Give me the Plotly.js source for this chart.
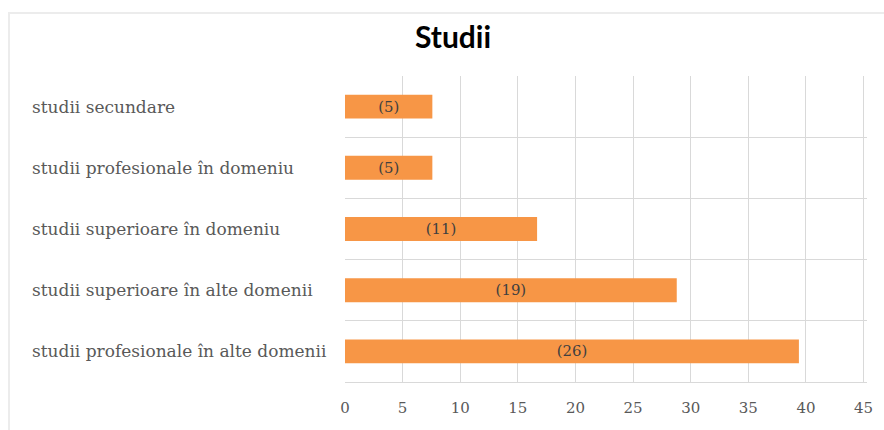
<!DOCTYPE html>
<html>
<head>
<meta charset="utf-8">
<script src="https://cdn.plot.ly/plotly-3.0.1.min.js"></script>
<style>
  html, body { margin: 0; padding: 0; background: #fff; }
  #wrap { position: relative; width: 884px; height: 430px; overflow: hidden; }
  #chart { width: 884px; height: 430px; }
  #frame { position: absolute; left: 8px; top: 12px; width: 1000px; height: 1000px;
           border-left: 2px solid #ececec; border-top: 2px solid #ececec; pointer-events: none; }
</style>
</head>
<body>
<div id="wrap">
  <div id="chart"></div>
  <div id="frame"></div>
</div>
<script>
// Data
const categories = [
  "studii secundare",
  "studii profesionale în domeniu",
  "studii superioare în domeniu",
  "studii superioare în alte domenii",
  "studii profesionale în alte domenii"
];
const counts = [5, 5, 11, 19, 26];
const percents = [7.58, 7.58, 16.67, 28.79, 39.39];
const xTicks = [0, 5, 10, 15, 20, 25, 30, 35, 40, 45];

const labelText = counts.map(c => "(" + c + ")");

const trace = {
  type: "bar",
  orientation: "h",
  x: percents,
  y: categories,
  width: 0.39,
  marker: { color: "#F79646" },
  text: labelText,
  textposition: "inside",
  insidetextanchor: "middle",
  textangle: 0,
  textfont: { family: "DejaVu Serif", size: 15, color: "#404040" },
  hoverinfo: "skip"
};

const plotW = 522.5;
const annotations = categories.map(c => ({
  xref: "paper", yref: "y",
  x: -315 / plotW, y: c,
  xanchor: "left", yanchor: "middle",
  text: c, showarrow: false,
  font: { family: "DejaVu Serif", size: 17, color: "#595959" }
}));

const layout = {
  width: 884, height: 430,
  margin: { l: 345, r: 16.5, t: 76, b: 48 },
  paper_bgcolor: "#ffffff",
  plot_bgcolor: "#ffffff",
  showlegend: false,
  title: {
    text: "<b>Studii</b>",
    font: { family: "Lato", size: 30, color: "#000000" },
    xref: "container", yref: "container",
    x: 453 / 884, xanchor: "center",
    y: 1 - 37 / 430, yanchor: "middle"
  },
  xaxis: {
    range: [0, 45.3],
    tickvals: xTicks,
    ticktext: xTicks.map(String),
    showgrid: true, gridcolor: "#d9d9d9", gridwidth: 1,
    zeroline: false,
    showline: true, linecolor: "#d9d9d9", linewidth: 1,
    ticks: "",
    ticklabelstandoff: 12,
    tickfont: { family: "DejaVu Serif", size: 15, color: "#595959" },
    fixedrange: true
  },
  yaxis: {
    type: "category",
    autorange: "reversed",
    tickson: "boundaries",
    showgrid: true, gridcolor: "#d9d9d9", gridwidth: 1,
    showticklabels: false,
    ticks: "",
    showline: false,
    zeroline: false,
    fixedrange: true
  },
  annotations: annotations,
  bargap: 0.61
};

Plotly.newPlot("chart", [trace], layout, { displayModeBar: false, staticPlot: true });
</script>
</body>
</html>
